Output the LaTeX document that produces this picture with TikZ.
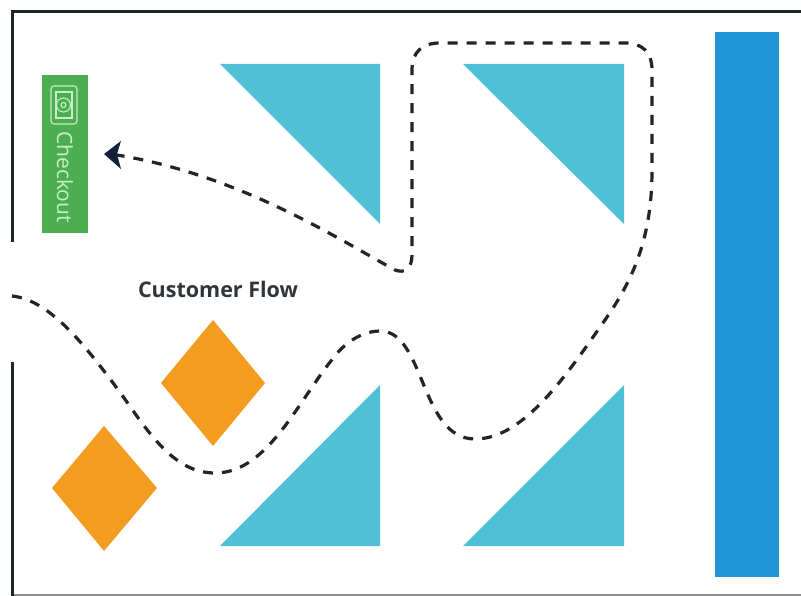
\documentclass[tikz,border=0pt]{standalone}
\usepackage{fontspec}
\setmainfont{Open Sans}
\usetikzlibrary{arrows.meta}
\definecolor{teal1}{HTML}{50C0D6}
\definecolor{orange1}{HTML}{F39C1F}
\definecolor{blue1}{HTML}{1F95D6}
\definecolor{green1}{HTML}{4CAE50}
\definecolor{ink}{HTML}{20252C}
\definecolor{navy1}{HTML}{14213A}
\definecolor{mint}{HTML}{C8F0C8}
\definecolor{labelgrey}{HTML}{30353A}
\tikzset{
  wall/.style={draw=ink,line width=2.6pt,line cap=butt},
  shelf/.style={fill=teal1,draw=none},
  display/.style={fill=orange1,draw=none},
  flowline/.style={draw=ink,line width=3.2pt,dash pattern=on 10pt off 9pt,line cap=butt},
  iconline/.style={draw=mint,line width=1.1pt},
}
\begin{document}
\begin{tikzpicture}[x=1pt,y=-1pt]
\useasboundingbox (0,0) rectangle (801,596);
\fill[white] (0,0) rectangle (801,596);
% walls
\draw[wall] (12.5,242) -- (12.5,11.5) -- (801,11.5);
\draw[wall] (12.5,362) -- (12.5,596);
\draw[draw=black!45,line width=1.5pt] (14,595) -- (801,595);
% end cap and checkout
\fill[green1] (42,75) rectangle (88,233);
\fill[blue1] (715,32) rectangle (779,577);
% shelves
\fill[shelf] (220,64) -- (380,64) -- (380,224) -- cycle;
\fill[shelf] (463,64) -- (624,64) -- (624,224) -- cycle;
\fill[shelf] (220,546) -- (380,546) -- (380,385) -- cycle;
\fill[shelf] (463,546) -- (624,546) -- (624,385) -- cycle;
% displays
\fill[display] (213,320) -- (265,383) -- (213,446) -- (161,383) -- cycle;
\fill[display] (104,426) -- (157,488) -- (104,551) -- (52,488) -- cycle;
% icon
\draw[iconline,rounded corners=3pt] (51,86) rectangle (77,124);
\draw[iconline] (56,92) rectangle (72,118);
\draw[iconline] (63.5,105) circle (7);
\draw[iconline] (63.5,105) circle (2.5);
% labels
\node[rotate=-90,text=mint,font=\fontsize{21}{21}\selectfont,inner sep=0pt] (checkout) at (65,177) {Checkout};
\node[text=labelgrey,font=\fontsize{21.5}{22}\selectfont\bfseries,inner sep=0pt] (flowlabel) at (218,289) {Customer Flow};
% flow path
\coordinate (flowstart) at (12,296);
\coordinate (flowend) at (104,154);
\fill[navy1] (flowend) -- (121,141) -- (117,154) -- (121,169) -- cycle;
\draw[flowline]
  (flowstart) .. controls (50,300) and (85,345) .. (122,395)
  .. controls (150,435) and (175,473) .. (215,473)
  .. controls (270,473) and (300,395) .. (340,350)
  .. controls (355,335) and (370,331) .. (380,331)
  .. controls (425,331) and (420,439) .. (475,439)
  .. controls (520,439) and (560,385) .. (600,327)
  .. controls (632,283) and (652,240) .. (652,170)
  -- (652,70)
  .. controls (652,52) and (642,43) .. (625,43)
  -- (440,43)
  .. controls (422,43) and (412,52) .. (412,70)
  -- (412,255)
  .. controls (412,268) and (405,274) .. (395,270)
  .. controls (340,240) and (240,175) .. (117,155);
\end{tikzpicture}
\end{document}
